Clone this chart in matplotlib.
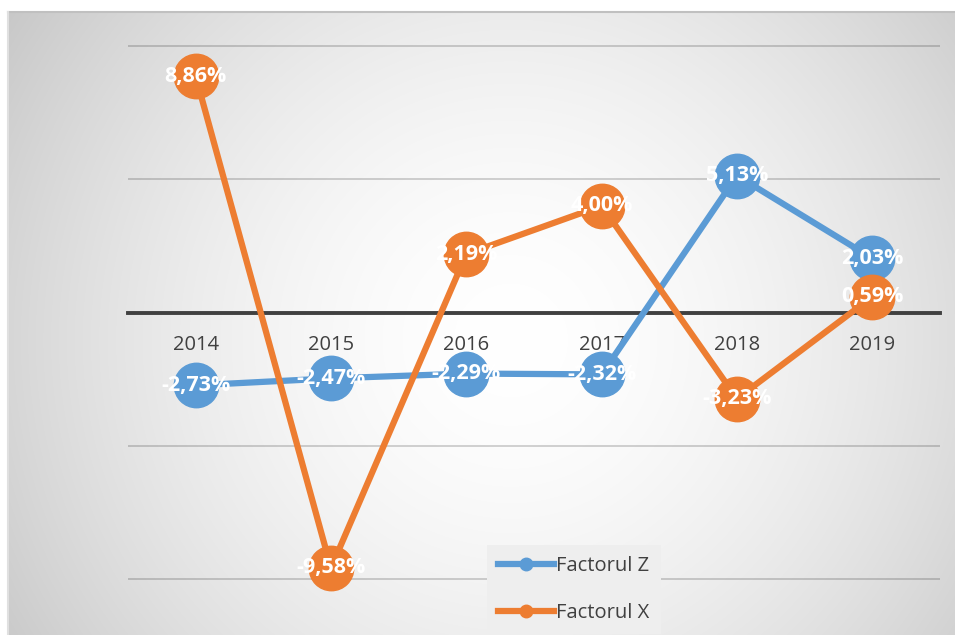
import numpy as np
import matplotlib
matplotlib.use("Agg")
import matplotlib.pyplot as plt
from matplotlib.lines import Line2D

years = ["2014", "2015", "2016", "2017", "2018", "2019"]
factor_z = [-2.73, -2.47, -2.29, -2.32, 5.13, 2.03]
factor_x = [8.86, -9.58, 2.19, 4.00, -3.23, 0.59]
series_names = ["Factorul Z", "Factorul X"]

BLUE = "#5B9BD5"
ORANGE = "#ED7D31"
TXT = "#404040"

W, H = 955, 635
fig = plt.figure(figsize=(W / 100, H / 100), dpi=100)
fig.patch.set_facecolor("white")

# radial gradient background panel
px0, py0 = 8, 12
bg = fig.add_axes([px0 / W, 0, 1 - px0 / W, 1 - py0 / H])
bg.set_axis_off()
gx = np.arange(px0, W)
gy = np.arange(py0, H)
XX, YY = np.meshgrid(gx, gy)
d = np.sqrt((XX - 510) ** 2 + (YY - 340) ** 2) / 590.0
g = 1 - 0.21 * np.clip(d, 0, 1.2) ** 1.7
img = np.dstack([g, g, g])
bg.imshow(img, aspect="auto", extent=[0, 1, 0, 1], interpolation="bilinear")
bg.plot([0, 1], [1, 1], color="#c0c0c0", lw=1.5, transform=bg.transAxes, clip_on=False)
bg.plot([0, 0], [0, 1], color="#e0e0e0", lw=1.5, transform=bg.transAxes, clip_on=False)

left, right = 128 / W, 940 / W
bottom, top = (H - 580) / H, (H - 45) / H
ax = fig.add_axes([left, bottom, right - left, top - bottom])
ax.patch.set_visible(False)
ax.set_xlim(-0.5, len(years) - 0.5)
ax.set_ylim(-10.03, 10.03)

for s in ["top", "left", "right"]:
    ax.spines[s].set_visible(False)
ax.spines["bottom"].set_position(("data", 0))
ax.spines["bottom"].set_color(TXT)
ax.spines["bottom"].set_linewidth(2.8)
ax.spines["bottom"].set_zorder(3)

ax.set_yticks([-10, -5, 5, 10])
ax.yaxis.grid(True, color="black", alpha=0.22, lw=1.1)
ax.set_axisbelow(True)
ax.tick_params(axis="y", length=0, labelleft=False)

xs = np.arange(len(years))
ax.set_xticks(xs)
ax.set_xticklabels(years, fontfamily="Open Sans", fontsize=14.5, color=TXT)
ax.tick_params(axis="x", length=0, pad=16)

ax.plot(xs, factor_z, color=BLUE, lw=4.5, marker="o", markersize=32,
        solid_capstyle="round", zorder=4, clip_on=False)
ax.plot(xs, factor_x, color=ORANGE, lw=4.5, marker="o", markersize=32,
        solid_capstyle="round", zorder=5, clip_on=False)

for vals in (factor_z, factor_x):
    for xi, v in zip(xs, vals):
        lbl = f"{v:.2f}%".replace(".", ",")
        ax.text(xi, v, lbl, ha="center", va="center", color="white",
                fontfamily="Open Sans", fontweight="bold", fontsize=15.5,
                zorder=10, clip_on=False)

handles = [Line2D([0], [0], color=BLUE, lw=4.5, marker="o", markersize=9),
           Line2D([0], [0], color=ORANGE, lw=4.5, marker="o", markersize=9)]
leg = fig.legend(handles, series_names, loc="upper left",
                 bbox_to_anchor=(487 / W, 1 - 545 / H),
                 bbox_transform=fig.transFigure,
                 prop={"family": "Open Sans", "size": 14.5},
                 labelcolor=TXT, frameon=True, fancybox=False,
                 facecolor="#eeeeee", edgecolor="none", framealpha=1,
                 handlelength=2.8, handletextpad=0.1, labelspacing=1.35,
                 borderpad=0.55, borderaxespad=0)
leg.set_zorder(20)

fig.savefig("out.png", dpi=100)
